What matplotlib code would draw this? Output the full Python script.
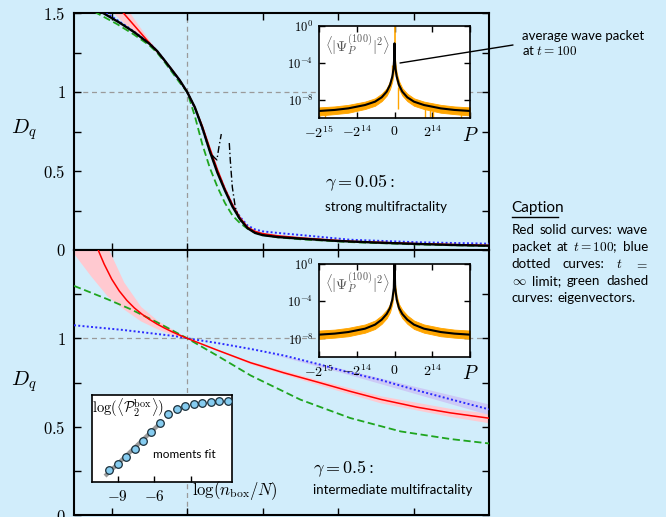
import numpy as np
import matplotlib
matplotlib.use("Agg")
import matplotlib.pyplot as plt
from matplotlib.lines import Line2D
from matplotlib.ticker import FixedLocator, NullLocator

plt.rcParams['mathtext.fontset'] = 'cm'
plt.rcParams['font.family'] = ['Lato', 'DejaVu Sans']

BG = '#d1edfb'
W, H = 666, 517

# ---------------- upper panel (gamma = 0.05) ----------------
q_up_black = [-1.5, -1.3, -1.115, -0.9, -0.7, -0.5, -0.4, -0.3, -0.2, -0.1, 0.0, 0.1, 0.2, 0.3,
              0.4, 0.5, 0.6, 0.7, 0.8, 0.9, 1.0, 1.2, 1.5, 2.0, 2.5, 3.0, 3.5, 4.0]
D_up_black = [1.60, 1.55, 1.50, 1.44, 1.378, 1.305, 1.26, 1.20, 1.138, 1.075, 1.0, 0.905, 0.775,
              0.625, 0.49, 0.377, 0.275, 0.195, 0.138, 0.108, 0.094, 0.082, 0.072, 0.057, 0.047,
              0.039, 0.032, 0.027]

q_up_red = [-1.2, -1.0, -0.846, -0.7, -0.5, -0.4, -0.3, -0.2, -0.1, 0.0, 0.1, 0.2, 0.3, 0.4,
            0.5, 0.6, 0.7, 0.8, 0.9, 1.0, 1.2, 1.5, 2.16, 3.05, 4.0]
D_up_red = [1.72, 1.59, 1.50, 1.42, 1.31, 1.26, 1.20, 1.14, 1.075, 1.0, 0.905, 0.785, 0.645,
            0.51, 0.39, 0.288, 0.205, 0.145, 0.118, 0.104, 0.090, 0.077, 0.055, 0.040, 0.029]

q_up_redband = [-1.2, -1.0, -0.846, -0.7, -0.5, -0.3, 0.0]
D_up_redband_lo = [1.60, 1.51, 1.44, 1.38, 1.295, 1.195, 1.0]
D_up_redband_hi = [1.85, 1.68, 1.565, 1.46, 1.325, 1.205, 1.0]

q_up_blue = [-1.5, -1.07, -0.8, -0.5, -0.4, -0.3, -0.2, -0.1, 0.0, 0.1, 0.2, 0.3, 0.4, 0.5,
             0.6, 0.7, 0.8, 0.9, 1.0, 1.2, 1.5, 2.16, 3.05, 4.0]
D_up_blue = [1.63, 1.50, 1.415, 1.31, 1.26, 1.20, 1.135, 1.072, 1.0, 0.90, 0.77, 0.625, 0.50,
             0.385, 0.285, 0.21, 0.155, 0.13, 0.118, 0.108, 0.095, 0.065, 0.049, 0.040]

q_up_green = [-1.5, -1.2, -0.93, -0.71, -0.5, -0.4, -0.3, -0.2, -0.1, 0.0, 0.1, 0.2, 0.3, 0.4,
              0.5, 0.6, 0.7, 0.8, 0.9, 1.0, 1.2, 1.5, 2.16, 3.05, 4.0]
D_up_green = [1.60, 1.50, 1.43, 1.365, 1.295, 1.25, 1.19, 1.125, 1.06, 1.0, 0.85, 0.67, 0.52,
              0.40, 0.298, 0.218, 0.17, 0.135, 0.11, 0.095, 0.08, 0.068, 0.050, 0.035, 0.025]

# moments fit (dash-dot), two branches
q_fit1 = [0.33, 0.36, 0.394, 0.42, 0.452]
D_fit1 = [0.60, 0.585, 0.570, 0.65, 0.734]
q_fit2 = [0.558, 0.571, 0.598, 0.637, 0.677, 0.744]
D_fit2 = [0.677, 0.570, 0.399, 0.272, 0.209, 0.162]

# ---------------- lower panel (gamma = 0.5) ----------------
q_lo_red = [-1.25, -1.17, -1.1, -1.0, -0.9, -0.8, -0.7, -0.6, -0.5, -0.4, -0.3, -0.2, -0.1,
            0.0, 0.394, 0.84, 1.28, 1.73, 2.16, 2.56, 3.05, 3.49, 4.0]
D_lo_red = [1.59, 1.49, 1.42, 1.335, 1.268, 1.215, 1.172, 1.137, 1.107, 1.081, 1.058, 1.037,
            1.018, 1.0, 0.934, 0.862, 0.805, 0.752, 0.700, 0.655, 0.610, 0.578, 0.548]

q_lo_redband = [-1.5, -1.28, -1.06, -0.84, -0.615, -0.39, -0.17, 0.0, 0.84, 1.73, 2.56, 3.49, 4.0]
D_lo_redband_lo = [1.478, 1.354, 1.24, 1.165, 1.098, 1.052, 1.016, 1.0, 0.854, 0.738, 0.635,
                   0.557, 0.522]
D_lo_redband_hi = [2.3, 1.85, 1.52, 1.318, 1.18, 1.10, 1.045, 1.0, 0.870, 0.766, 0.675,
                   0.603, 0.576]

q_lo_blue = [-1.5, -0.84, -0.17, 0.0, 0.42, 0.84, 1.28, 1.73, 2.16, 2.56, 3.05, 3.49, 4.0]
D_lo_blue = [1.074, 1.047, 1.013, 1.0, 0.972, 0.94, 0.903, 0.855, 0.805, 0.765, 0.705, 0.655,
             0.598]
q_lo_blueband = [1.0, 2.0, 3.0, 4.0]
D_lo_blueband_lo = [0.925, 0.812, 0.690, 0.568]
D_lo_blueband_hi = [0.925, 0.834, 0.730, 0.628]

q_lo_green = [-1.5, -1.06, -0.75, -0.39, 0.0, 0.394, 0.84, 1.5, 2.16, 2.83, 3.49, 4.0]
D_lo_green = [1.297, 1.222, 1.165, 1.089, 1.0, 0.903, 0.79, 0.653, 0.549, 0.473, 0.43, 0.405]

# ---------------- wave packet insets (log10 values, P >= 0, symmetric) ----------------
P_a = [0, 150, 400, 950, 1950, 3390, 5560, 8460, 12800, 20050, 26000, 32768]
logpsi_a = [-1.92, -3.6, -4.6, -5.51, -6.41, -7.13, -7.74, -8.21, -8.57, -8.93, -9.10, -9.21]
logpsi_a_lo = [-4.5, -4.6, -5.2, -6.0, -6.85, -7.55, -8.15, -8.65, -9.0, -9.4, -9.55, -9.7]
logpsi_a_hi = [-3.0, -3.2, -4.1, -5.1, -6.0, -6.75, -7.35, -7.85, -8.2, -8.55, -8.72, -8.82]
spike_a_P = [-30000, -1000, 1400, 13200, 15400, 16800, 29000]
spike_a_lo = [-9.95, -5.0, -9.0, -10.0, -9.9, -10.0, -9.95]
spike_a_hi = [-9.2, -4.3, -6.6, -8.8, -8.9, -8.9, -9.0]

P_b = [0, 300, 950, 1950, 3390, 5560, 8460, 12800, 20050, 26000, 32768]
logpsi_b = [0.5, -2.62, -3.87, -4.76, -5.40, -6.01, -6.54, -6.97, -7.33, -7.50, -7.61]
logpsi_b_lo = [-3.0, -3.1, -4.3, -5.2, -5.85, -6.45, -7.0, -7.4, -7.78, -7.93, -8.05]
logpsi_b_hi = [-2.0, -2.3, -3.45, -4.35, -4.95, -5.55, -6.1, -6.52, -6.88, -7.07, -7.17]

# ---------------- moments fit inset ----------------
log_nbox = [-9.70, -9.01, -8.32, -7.62, -6.93, -6.24, -5.55, -4.85, -4.16, -3.47, -2.77,
            -2.08, -1.39, -0.69, 0.0]
log_P2 = [-6.13, -5.64, -5.10, -4.44, -3.76, -3.05, -2.32, -1.58, -1.14, -0.90, -0.76,
          -0.68, -0.60, -0.52, -0.46]
fit_x = [-10.04, -5.35]
fit_y = [-6.62, -2.13]

caption_lines = [["Red", "solid", "curves:", "wave"],
                 ["packet", "at", "$t=100$;", "blue"],
                 ["dotted", "curves:", "$t$", "$=$"],
                 ["$\\infty$", "limit;", "green", "dashed"],
                 ["curves:", "eigenvectors."]]


def fx(px):
    return px / W


def fy(py):
    return 1 - py / H


fig = plt.figure(figsize=(6.66, 5.17), dpi=100, facecolor=BG)

ax1 = fig.add_axes([fx(74), fy(250), fx(489) - fx(74), fy(13) - fy(250)])
ax2 = fig.add_axes([fx(74), fy(515), fx(489) - fx(74), fy(250) - fy(515)])

for ax in (ax1, ax2):
    ax.set_facecolor(BG)
    ax.set_xlim(-1.5, 4.0)
    ax.set_ylim(0, 1.5)
    ax.axhline(1, color='#9a9a9a', lw=0.9, ls=(0, (4, 3)), zorder=1)
    ax.axvline(0, color='#9a9a9a', lw=0.9, ls=(0, (4, 3)), zorder=1)
    ax.set_xticks([-1, 0, 1, 2, 3])
    ax.set_xticklabels([])
    ax.yaxis.set_minor_locator(FixedLocator([0.25, 0.75, 1.25]))
    ax.tick_params(which='both', direction='in', top=True, right=True, length=5, width=1,
                   labelsize=12, pad=6)
    for s in ax.spines.values():
        s.set_linewidth(1.5)

ax1.set_yticks([0, 0.5, 1, 1.5])
ax1.set_yticklabels(['$0$', '$0.5$', '$1$', '$1.5$'])
ax2.set_yticks([0, 0.5, 1, 1.5])
ax2.set_yticklabels(['$0$', '$0.5$', '$1$', ''])

# upper panel curves
ax1.fill_between(q_up_redband, D_up_redband_lo, D_up_redband_hi, color='#ffc9d0', lw=0, zorder=2)
ax1.plot(q_up_green, D_up_green, color='#1fa51f', lw=1.3, ls=(0, (4, 2)), zorder=3)
ax1.plot(q_up_blue, D_up_blue, color='#2a2aff', lw=1.4, ls=(0, (1, 1.2)), zorder=3)
ax1.plot(q_up_red, D_up_red, color='#ff0000', lw=1.1, zorder=4)
ax1.plot(q_up_black, D_up_black, color='k', lw=1.7, zorder=5)
ax1.plot(q_fit1, D_fit1, color='k', lw=1.0, ls=(0, (5, 2, 1, 2)), zorder=5)
ax1.plot(q_fit2, D_fit2, color='k', lw=1.0, ls=(0, (5, 2, 1, 2)), zorder=5)

# lower panel curves
ax2.fill_between(q_lo_redband, D_lo_redband_lo, D_lo_redband_hi, color='#ffc9d0', lw=0, zorder=2)
ax2.fill_between(q_lo_blueband, D_lo_blueband_lo, D_lo_blueband_hi, color='#cccaf6', lw=0, zorder=2)
ax2.plot(q_lo_green, D_lo_green, color='#1fa51f', lw=1.3, ls=(0, (4, 2)), zorder=3)
ax2.plot(q_lo_blue, D_lo_blue, color='#2a2aff', lw=1.4, ls=(0, (1, 1.2)), zorder=3)
ax2.plot(q_lo_red, D_lo_red, color='#ff0000', lw=1.1, zorder=4)

for ax, ypos in ((ax1, 0.506), (ax2, 0.504)):
    ax.text(-0.12, ypos, '$D_q$', transform=ax.transAxes, fontsize=15, ha='center', va='center')

ax1.text(0.605, 0.283, r'$\gamma = 0.05:$', transform=ax1.transAxes, fontsize=13, va='center')
ax1.text(0.605, 0.181, 'strong multifractality', transform=ax1.transAxes, fontsize=9.5, va='center')
ax2.text(0.576, 0.174, r'$\gamma = 0.5:$', transform=ax2.transAxes, fontsize=13, va='center')
ax2.text(0.576, 0.093, 'intermediate multifractality', transform=ax2.transAxes, fontsize=9.5,
         va='center')


# wave packet insets
def packet_inset(rect, P, logc, loglo, loghi, spikes=None, peak=None):
    axi = fig.add_axes(rect)
    axi.set_facecolor('white')
    P = np.array(P, dtype=float)
    Pf = np.concatenate([-P[::-1], P])
    sym = lambda v: np.concatenate([np.array(v)[::-1], np.array(v)])
    axi.fill_between(Pf, 10 ** sym(loglo), 10 ** sym(loghi), color='#ffa500', lw=0.6,
                     edgecolor='#ffa500', zorder=2)
    if spikes is not None:
        sp, slo, shi = spikes
        axi.vlines(sp, 10 ** np.array(slo), 10 ** np.array(shi), color='#ffa500', lw=1.0, zorder=2)
    if peak is not None:
        axi.vlines([0], 10 ** peak[0], 10 ** peak[1], color='#ffa500', lw=1.2, zorder=2)
    axi.plot(Pf, 10 ** sym(logc), color='k', lw=1.5, zorder=3)
    axi.set_yscale('log')
    axi.set_xlim(-32768, 32768)
    axi.set_ylim(1e-10, 1)
    axi.set_yticks([1, 1e-4, 1e-8])
    axi.set_yticklabels(['$10^{0}$', '$10^{-4}$', '$10^{-8}$'])
    axi.yaxis.set_minor_locator(NullLocator())
    axi.set_xticks([-32768, -16384, 0, 16384, 32768])
    axi.set_xticklabels(['$-2^{15}$', '$-2^{14}$', '$0$', '$2^{14}$', ''])
    axi.tick_params(which='both', direction='in', top=True, right=True, length=4, width=1,
                    labelsize=10, pad=4)
    axi.tick_params(axis='y', labelsize=9)
    axi.text(1.0, -0.08, '$P$', transform=axi.transAxes, fontsize=14, ha='center', va='top')
    axi.text(0.04, 0.93, r'$\langle|\Psi_P^{(100)}|^2\rangle$', transform=axi.transAxes,
             fontsize=10.5, color='#555555', va='top')
    for s in axi.spines.values():
        s.set_linewidth(1.2)
    return axi


axa = packet_inset([fx(319), fy(118.3), fx(470) - fx(319), fy(25.5) - fy(118.3)],
                   P_a, logpsi_a, logpsi_a_lo, logpsi_a_hi,
                   spikes=(spike_a_P, spike_a_lo, spike_a_hi), peak=(-4.5, 0.0))
axb = packet_inset([fx(319), fy(357), fx(470) - fx(319), fy(263.5) - fy(357)],
                   P_b, logpsi_b, logpsi_b_lo, logpsi_b_hi)

axa.annotate('', xy=(2390, 10 ** -4.04), xycoords='data', xytext=(513, H - 45),
             textcoords='figure pixels',
             arrowprops=dict(arrowstyle='-', color='k', lw=1.0, shrinkA=0, shrinkB=0))
fig.text(fx(522), fy(30), 'average wave packet\nat $t=100$', fontsize=9.5, va='top', ha='left')

# moments fit inset
axm = fig.add_axes([fx(91.7), fy(481.7), fx(231.7) - fx(91.7), fy(395) - fy(481.7)])
axm.set_facecolor('white')
axm.plot(fit_x, fit_y, color='#9a9a9a', lw=3, solid_capstyle='butt', zorder=2)
axm.scatter(log_nbox, log_P2, s=30, facecolor='#86ccf0', edgecolor='#1b2f3a', lw=0.9,
            zorder=3, clip_on=False)
axm.set_xlim(-11.13, 0.32)
axm.set_ylim(-7.08, 0)
axm.set_xticks([-9, -6, -3])
axm.set_xticklabels(['$-9$', '$-6$', ''])
axm.set_yticks([])
axm.tick_params(direction='in', length=4, width=1, labelsize=11, pad=5)
for s in axm.spines.values():
    s.set_linewidth(1.2)
axm.text(0.005, 0.85, r'$\log(\langle\mathcal{P}_2^{\rm box}\rangle)$', transform=axm.transAxes,
         fontsize=10.5, va='center', ha='left')
axm.text(0.44, 0.31, 'moments fit', transform=axm.transAxes, fontsize=8.5, va='center')
axm.text(0.716, -0.10, r'$\log(n_{\rm box}/N)$', transform=axm.transAxes, fontsize=12,
         va='center', ha='left')

# caption
fig.text(fx(511.7), fy(211.7), 'Caption', fontsize=11, va='baseline', ha='left')
fig.add_artist(Line2D([fx(511.7), fx(558)], [fy(216.7), fy(216.7)], color='k', lw=1.0))

renderer = fig.canvas.get_renderer()
x0, x1 = 511.7, 648.3
for i, words in enumerate(caption_lines):
    ybase = [234, 250.7, 268, 284.7, 302.3][i]
    texts = [fig.text(0, fy(ybase), w, fontsize=9.6, va='baseline', ha='left') for w in words]
    widths = [t.get_window_extent(renderer).width for t in texts]
    if i < len(caption_lines) - 1:
        gap = (x1 - x0 - sum(widths)) / (len(words) - 1)
    else:
        gap = 4.0
    x = x0
    for t, wd in zip(texts, widths):
        t.set_x(fx(x))
        x += wd + gap

fig.savefig('out.png', dpi=100, facecolor=BG)
